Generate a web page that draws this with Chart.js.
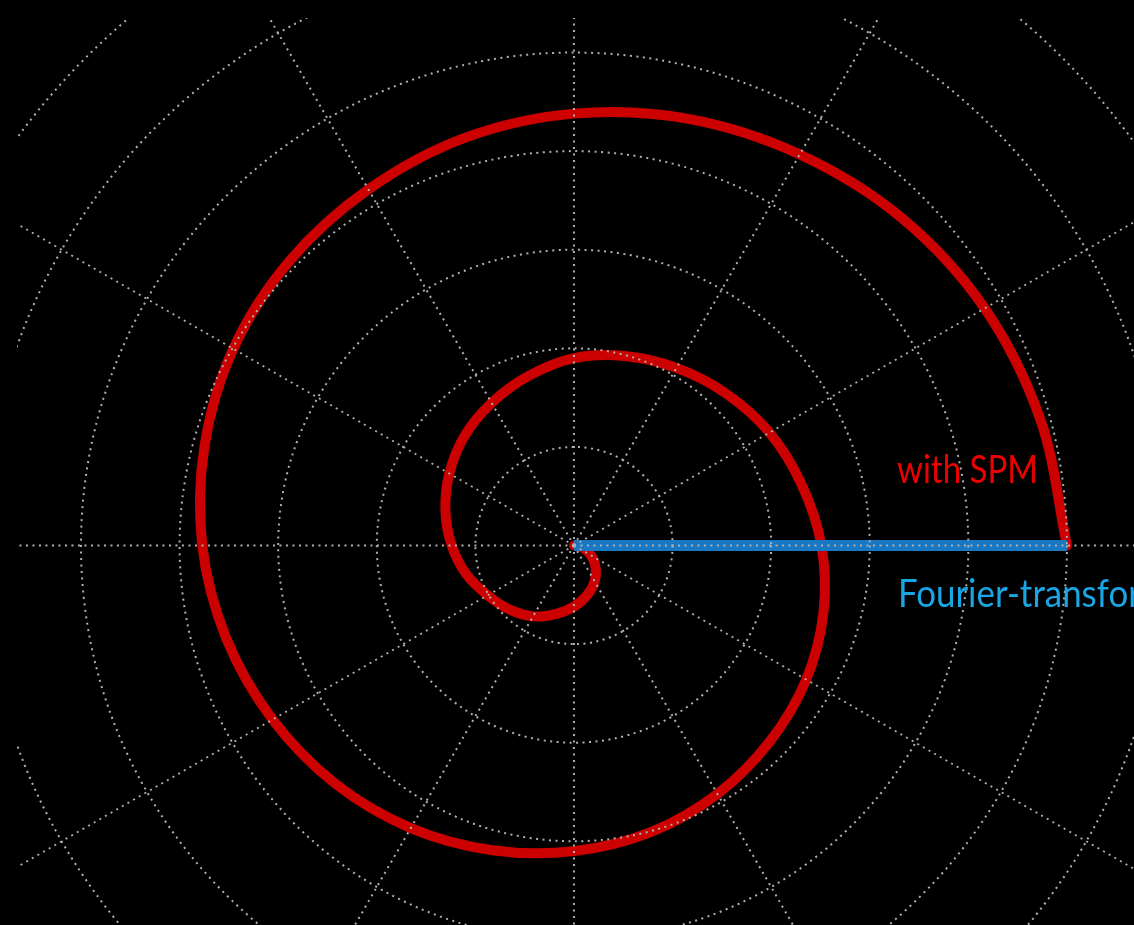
<!DOCTYPE html>
<html>
<head>
<meta charset="utf-8">
<title>SPM spiral</title>
<script src="https://cdn.jsdelivr.net/npm/chart.js@4.4.1/dist/chart.umd.min.js"></script>
<style>
html, body { margin: 0; padding: 0; background: #000; }
#wrap { width: 1134px; height: 925px; }
</style>
</head>
<body>
<div id="wrap"><canvas id="spiral"></canvas></div>
<script>
// phase (deg) and radius (grid rings), every 15 deg
var spmPhase = [0, -15, -30, -45, -60, -75, -90, -105, -120, -135, -150, -165, -180,
                -195, -210, -225, -240, -255, -270, -285, -300, -315, -330, -345, -360,
                -375, -390, -405, -420, -435, -450, -465, -480, -495, -510, -525, -540,
                -555, -570, -585, -600, -615, -630, -645, -660, -675, -690, -705, -720];
var spmRadius = [0, 0.10, 0.20, 0.31, 0.42, 0.52, 0.62, 0.72, 0.83, 0.92, 1.01, 1.13, 1.24,
                 1.35, 1.46, 1.57, 1.67, 1.78, 1.90, 1.99, 2.08, 2.18, 2.29, 2.39, 2.51,
                 2.62, 2.72, 2.81, 2.91, 3.01, 3.10, 3.20, 3.31, 3.42, 3.53, 3.65, 3.77,
                 3.88, 3.99, 4.08, 4.17, 4.28, 4.38, 4.48, 4.58, 4.70, 4.81, 4.90, 5.00];
var ftlPhase = [0, 0];
var ftlRadius = [0, 5];

var ringRadii = [1, 2, 3, 4, 5, 6, 7, 8];
var spokeAngles = [0, 30, 60, 90, 120, 150, 180, 210, 240, 270, 300, 330];

var spmLabel = 'with SPM';
var ftlLabel = 'Fourier-transform limited';

function toXY(radius, phase) {
    return radius.map(function (r, i) {
        var a = phase[i] * Math.PI / 180;
        return { x: r * Math.cos(a), y: r * Math.sin(a) };
    });
}

function squeezedText(c, text, x, y, width, sample) {
    var k = width / c.measureText(sample).width;
    c.save();
    c.translate(x, y);
    c.scale(k, 1);
    c.fillText(text, 0, 0);
    c.restore();
}

// dotted polar grid, drawn over the curves like in the original
var polarGrid = {
    id: 'polarGrid',
    afterDatasetsDraw: function (chart) {
        var c = chart.ctx, xs = chart.scales.x, ys = chart.scales.y, area = chart.chartArea;
        var cx = xs.getPixelForValue(0), cy = ys.getPixelForValue(0);
        var unit = xs.getPixelForValue(1) - cx;
        c.save();
        c.beginPath();
        c.rect(area.left, area.top, area.right - area.left, area.bottom - area.top);
        c.clip();
        c.strokeStyle = '#b0b0b0';
        c.lineWidth = 2;
        c.setLineDash([2, 4.5]);
        ringRadii.forEach(function (r) {
            c.beginPath();
            c.arc(cx, cy, r * unit, 0, 2 * Math.PI);
            c.stroke();
        });
        var outer = ringRadii[ringRadii.length - 1];
        spokeAngles.forEach(function (a) {
            var t = a * Math.PI / 180;
            c.beginPath();
            c.moveTo(cx, cy);
            c.lineTo(xs.getPixelForValue(outer * Math.cos(t)), ys.getPixelForValue(outer * Math.sin(t)));
            c.stroke();
        });
        c.restore();

        // curve labels (the original font is a narrow one, so squeeze a bit)
        c.save();
        c.font = '39px Lato, "DejaVu Sans", sans-serif';
        c.textBaseline = 'alphabetic';
        c.fillStyle = '#ee0000';
        squeezedText(c, spmLabel, xs.getPixelForValue(3.276), ys.getPixelForValue(0.634), 141, spmLabel);
        c.fillStyle = '#18a6e4';
        squeezedText(c, ftlLabel, xs.getPixelForValue(3.286), ys.getPixelForValue(-0.624), 211, 'Fourier-transf');
        c.restore();
    }
};

var ctx = document.getElementById('spiral');
var spiralChart = new Chart(ctx, {
    type: 'scatter',
    data: {
        datasets: [{
            label: 'Fourier-transform limited',
            data: toXY(ftlRadius, ftlPhase),
            showLine: true,
            borderColor: '#1878c4',
            borderWidth: 11,
            borderCapStyle: 'butt',
            pointRadius: 0
        }, {
            label: 'with SPM',
            data: toXY(spmRadius, spmPhase),
            showLine: true,
            borderColor: '#cc0000',
            borderWidth: 10,
            tension: 0.34,
            borderCapStyle: 'round',
            borderJoinStyle: 'round',
            pointRadius: 0
        }]
    },
    options: {
        responsive: true,
        maintainAspectRatio: false,
        animation: false,
        layout: { padding: { left: 17, top: 18, right: 0, bottom: 0 } },
        scales: {
            x: { type: 'linear', display: false, min: -5.649, max: 5.680 },
            y: { type: 'linear', display: false, min: -3.849, max: 5.350 }
        },
        plugins: {
            legend: { display: false },
            tooltip: { enabled: false }
        }
    },
    plugins: [polarGrid]
});
</script>
</body>
</html>
